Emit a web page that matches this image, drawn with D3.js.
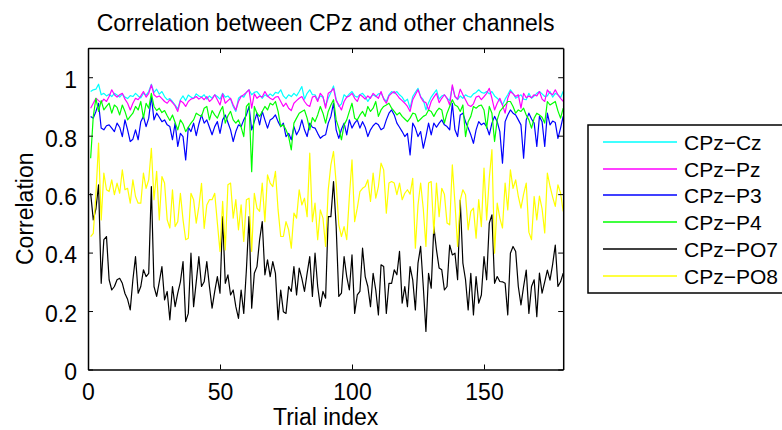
<!DOCTYPE html>
<html>
<head>
<meta charset="utf-8">
<script src="https://cdn.jsdelivr.net/npm/d3@7"></script>
<style>
  html, body { margin: 0; padding: 0; background: #fff; }
  svg { display: block; font-family: "Liberation Sans", Arial, sans-serif; }
</style>
</head>
<body>
<svg id="chart" width="782" height="430"></svg>
<script>
// correlation of CPz with each channel, one value per trial (1..180)
const cz = [
  0.951, 0.957, 0.959, 0.976, 0.940, 0.945, 0.936, 0.942, 0.934, 0.945,
  0.939, 0.932, 0.942, 0.932, 0.927, 0.937, 0.934, 0.945, 0.936, 0.929,
  0.945, 0.939, 0.951, 0.976, 0.948, 0.959, 0.942, 0.951, 0.934, 0.923,
  0.927, 0.917, 0.905, 0.891, 0.923, 0.936, 0.920, 0.939, 0.932, 0.927,
  0.943, 0.936, 0.932, 0.940, 0.925, 0.936, 0.928, 0.940, 0.934, 0.925,
  0.945, 0.932, 0.936, 0.925, 0.900, 0.883, 0.928, 0.936, 0.932, 0.948,
  0.957, 0.940, 0.948, 0.951, 0.940, 0.928, 0.940, 0.934, 0.943, 0.936,
  0.948, 0.945, 0.957, 0.936, 0.927, 0.940, 0.934, 0.945, 0.936, 0.951,
  0.968, 0.925, 0.945, 0.957, 0.940, 0.940, 0.923, 0.936, 0.932, 0.902,
  0.928, 0.948, 0.970, 0.925, 0.900, 0.909, 0.940, 0.932, 0.943, 0.951,
  0.936, 0.932, 0.940, 0.945, 0.934, 0.917, 0.932, 0.940, 0.934, 0.943,
  0.945, 0.928, 0.917, 0.940, 0.951, 0.945, 0.951, 0.940, 0.932, 0.917,
  0.925, 0.894, 0.934, 0.948, 0.962, 0.934, 0.923, 0.888, 0.913, 0.932,
  0.945, 0.957, 0.925, 0.936, 0.940, 0.928, 0.920, 0.968, 0.934, 0.923,
  0.936, 0.928, 0.940, 0.934, 0.932, 0.943, 0.948, 0.957, 0.948, 0.945,
  0.951, 0.943, 0.951, 0.936, 0.928, 0.920, 0.905, 0.925, 0.940, 0.957,
  0.945, 0.928, 0.934, 0.940, 0.925, 0.923, 0.945, 0.928, 0.936, 0.945,
  0.951, 0.943, 0.934, 0.936, 0.951, 0.932, 0.945, 0.940, 0.930, 0.952
];
const pz = [
  0.894, 0.911, 0.928, 0.920, 0.913, 0.925, 0.917, 0.934, 0.957, 0.940,
  0.932, 0.940, 0.945, 0.925, 0.911, 0.888, 0.911, 0.928, 0.923, 0.936,
  0.951, 0.932, 0.945, 0.974, 0.940, 0.932, 0.936, 0.927, 0.917, 0.911,
  0.923, 0.913, 0.902, 0.883, 0.920, 0.913, 0.900, 0.917, 0.925, 0.928,
  0.934, 0.925, 0.932, 0.923, 0.934, 0.917, 0.925, 0.940, 0.923, 0.905,
  0.943, 0.911, 0.920, 0.928, 0.905, 0.888, 0.917, 0.934, 0.940, 0.948,
  0.957, 0.894, 0.943, 0.928, 0.936, 0.932, 0.951, 0.936, 0.928, 0.923,
  0.932, 0.934, 0.917, 0.900, 0.911, 0.894, 0.886, 0.911, 0.920, 0.928,
  0.934, 0.917, 0.905, 0.900, 0.932, 0.936, 0.917, 0.945, 0.934, 0.894,
  0.945, 0.951, 0.962, 0.920, 0.905, 0.888, 0.917, 0.932, 0.936, 0.945,
  0.928, 0.917, 0.940, 0.934, 0.925, 0.936, 0.928, 0.945, 0.936, 0.928,
  0.951, 0.925, 0.911, 0.936, 0.945, 0.951, 0.940, 0.928, 0.920, 0.911,
  0.900, 0.883, 0.923, 0.940, 0.957, 0.932, 0.917, 0.913, 0.888, 0.917,
  0.932, 0.945, 0.913, 0.928, 0.940, 0.928, 0.905, 0.974, 0.934, 0.925,
  0.959, 0.940, 0.923, 0.905, 0.900, 0.909, 0.932, 0.936, 0.923, 0.934,
  0.945, 0.962, 0.928, 0.888, 0.911, 0.928, 0.905, 0.877, 0.928, 0.951,
  0.943, 0.934, 0.940, 0.894, 0.945, 0.930, 0.936, 0.930, 0.940, 0.936,
  0.951, 0.925, 0.917, 0.957, 0.945, 0.940, 0.957, 0.940, 0.928, 0.917
];
const p3 = [
  0.866, 0.860, 0.883, 0.911, 0.826, 0.820, 0.834, 0.837, 0.826, 0.814,
  0.843, 0.829, 0.797, 0.854, 0.820, 0.780, 0.788, 0.820, 0.786, 0.848,
  0.866, 0.831, 0.860, 0.934, 0.854, 0.877, 0.863, 0.848, 0.854, 0.837,
  0.831, 0.786, 0.843, 0.763, 0.808, 0.797, 0.717, 0.829, 0.814, 0.843,
  0.800, 0.840, 0.871, 0.843, 0.854, 0.829, 0.803, 0.831, 0.848, 0.808,
  0.854, 0.871, 0.845, 0.820, 0.780, 0.814, 0.837, 0.831, 0.854, 0.871,
  0.900, 0.820, 0.848, 0.877, 0.837, 0.883, 0.854, 0.826, 0.854, 0.860,
  0.871, 0.848, 0.831, 0.843, 0.797, 0.808, 0.786, 0.831, 0.803, 0.820,
  0.854, 0.820, 0.797, 0.843, 0.829, 0.826, 0.808, 0.791, 0.799, 0.803,
  0.843, 0.866, 0.911, 0.820, 0.791, 0.822, 0.843, 0.803, 0.854, 0.826,
  0.843, 0.854, 0.826, 0.848, 0.829, 0.797, 0.820, 0.834, 0.843, 0.837,
  0.820, 0.826, 0.854, 0.877, 0.888, 0.871, 0.843, 0.829, 0.814, 0.797,
  0.808, 0.734, 0.843, 0.826, 0.797, 0.814, 0.757, 0.797, 0.843, 0.803,
  0.843, 0.829, 0.843, 0.854, 0.837, 0.831, 0.820, 0.911, 0.820, 0.797,
  0.871, 0.877, 0.848, 0.826, 0.803, 0.774, 0.820, 0.848, 0.837, 0.843,
  0.831, 0.803, 0.843, 0.866, 0.848, 0.814, 0.706, 0.848, 0.871, 0.888,
  0.877, 0.871, 0.854, 0.837, 0.723, 0.854, 0.877, 0.857, 0.843, 0.763,
  0.866, 0.848, 0.763, 0.877, 0.837, 0.850, 0.845, 0.791, 0.826, 0.866
];
const p4 = [
  0.723, 0.866, 0.928, 0.883, 0.920, 0.888, 0.900, 0.911, 0.877, 0.905,
  0.897, 0.871, 0.905, 0.883, 0.854, 0.866, 0.877, 0.900, 0.888, 0.917,
  0.860, 0.911, 0.894, 0.945, 0.900, 0.886, 0.894, 0.879, 0.886, 0.868,
  0.852, 0.871, 0.845, 0.820, 0.854, 0.840, 0.814, 0.829, 0.843, 0.854,
  0.877, 0.871, 0.866, 0.894, 0.900, 0.854, 0.886, 0.871, 0.860, 0.883,
  0.900, 0.843, 0.868, 0.883, 0.854, 0.843, 0.854, 0.829, 0.797, 0.900,
  0.911, 0.677, 0.900, 0.877, 0.866, 0.883, 0.900, 0.888, 0.911, 0.905,
  0.917, 0.883, 0.831, 0.837, 0.820, 0.797, 0.751, 0.843, 0.860, 0.877,
  0.883, 0.888, 0.860, 0.820, 0.862, 0.848, 0.871, 0.900, 0.877, 0.843,
  0.883, 0.905, 0.923, 0.854, 0.826, 0.786, 0.837, 0.854, 0.883, 0.911,
  0.860, 0.854, 0.871, 0.883, 0.866, 0.900, 0.883, 0.894, 0.917, 0.866,
  0.888, 0.900, 0.905, 0.911, 0.894, 0.883, 0.871, 0.879, 0.866, 0.857,
  0.848, 0.860, 0.877, 0.874, 0.848, 0.857, 0.866, 0.871, 0.888, 0.883,
  0.866, 0.883, 0.894, 0.888, 0.843, 0.877, 0.900, 0.923, 0.905, 0.900,
  0.883, 0.905, 0.797, 0.848, 0.866, 0.900, 0.894, 0.902, 0.905, 0.888,
  0.826, 0.900, 0.877, 0.780, 0.854, 0.883, 0.894, 0.905, 0.917, 0.917,
  0.900, 0.877, 0.888, 0.883, 0.894, 0.871, 0.854, 0.826, 0.860, 0.877,
  0.871, 0.863, 0.843, 0.917, 0.905, 0.911, 0.917, 0.885, 0.860, 0.894
];
const po7 = [
  0.603, 0.512, 0.550, 0.632, 0.295, 0.444, 0.455, 0.307, 0.272, 0.284,
  0.307, 0.312, 0.295, 0.260, 0.240, 0.204, 0.307, 0.386, 0.261, 0.284,
  0.341, 0.318, 0.329, 0.626, 0.284, 0.250, 0.300, 0.352, 0.238, 0.267,
  0.170, 0.284, 0.215, 0.261, 0.300, 0.369, 0.164, 0.192, 0.398, 0.215,
  0.300, 0.386, 0.284, 0.300, 0.369, 0.284, 0.210, 0.267, 0.318, 0.261,
  0.523, 0.295, 0.324, 0.255, 0.272, 0.215, 0.175, 0.272, 0.192, 0.341,
  0.523, 0.210, 0.329, 0.352, 0.444, 0.506, 0.324, 0.375, 0.318, 0.369,
  0.329, 0.170, 0.272, 0.198, 0.192, 0.284, 0.267, 0.352, 0.255, 0.347,
  0.312, 0.267, 0.329, 0.386, 0.250, 0.398, 0.284, 0.215, 0.267, 0.244,
  0.523, 0.523, 0.643, 0.489, 0.250, 0.261, 0.386, 0.318, 0.272, 0.392,
  0.192, 0.255, 0.267, 0.415, 0.318, 0.284, 0.215, 0.329, 0.272, 0.187,
  0.358, 0.352, 0.192, 0.295, 0.295, 0.341, 0.324, 0.404, 0.227, 0.284,
  0.215, 0.352, 0.307, 0.204, 0.364, 0.421, 0.284, 0.130, 0.329, 0.278,
  0.489, 0.409, 0.347, 0.341, 0.272, 0.284, 0.426, 0.392, 0.398, 0.307,
  0.580, 0.364, 0.307, 0.204, 0.329, 0.187, 0.318, 0.227, 0.255, 0.386,
  0.307, 0.501, 0.529, 0.295, 0.318, 0.301, 0.300, 0.295, 0.187, 0.398,
  0.421, 0.404, 0.284, 0.221, 0.284, 0.340, 0.192, 0.284, 0.307, 0.181,
  0.330, 0.261, 0.300, 0.340, 0.306, 0.360, 0.426, 0.284, 0.300, 0.330
];
const po8 = [
  0.455, 0.466, 0.600, 0.775, 0.512, 0.672, 0.615, 0.609, 0.649, 0.598,
  0.638, 0.603, 0.683, 0.615, 0.620, 0.569, 0.649, 0.592, 0.569, 0.569,
  0.672, 0.620, 0.649, 0.757, 0.581, 0.678, 0.512, 0.660, 0.638, 0.512,
  0.484, 0.615, 0.489, 0.506, 0.603, 0.512, 0.444, 0.449, 0.603, 0.581,
  0.501, 0.558, 0.637, 0.483, 0.563, 0.581, 0.581, 0.603, 0.501, 0.404,
  0.575, 0.409, 0.632, 0.638, 0.518, 0.581, 0.478, 0.563, 0.438, 0.581,
  0.586, 0.404, 0.603, 0.552, 0.541, 0.638, 0.506, 0.666, 0.638, 0.626,
  0.678, 0.546, 0.455, 0.455, 0.506, 0.478, 0.415, 0.535, 0.518, 0.615,
  0.563, 0.586, 0.523, 0.740, 0.506, 0.569, 0.444, 0.546, 0.518, 0.421,
  0.615, 0.700, 0.746, 0.638, 0.495, 0.455, 0.489, 0.444, 0.592, 0.717,
  0.506, 0.552, 0.609, 0.620, 0.626, 0.649, 0.575, 0.672, 0.586, 0.626,
  0.706, 0.683, 0.535, 0.638, 0.643, 0.638, 0.598, 0.638, 0.581, 0.603,
  0.615, 0.600, 0.654, 0.415, 0.563, 0.638, 0.550, 0.421, 0.638, 0.643,
  0.466, 0.638, 0.523, 0.620, 0.600, 0.501, 0.495, 0.700, 0.569, 0.421,
  0.580, 0.615, 0.598, 0.478, 0.541, 0.552, 0.449, 0.581, 0.489, 0.689,
  0.512, 0.655, 0.752, 0.398, 0.569, 0.518, 0.484, 0.638, 0.546, 0.683,
  0.620, 0.649, 0.592, 0.552, 0.600, 0.638, 0.470, 0.444, 0.592, 0.512,
  0.593, 0.550, 0.467, 0.672, 0.627, 0.590, 0.558, 0.632, 0.604, 0.541
];

const seriesNames = ["CPz\u2212Cz", "CPz\u2212Pz", "CPz\u2212P3", "CPz\u2212P4", "CPz\u2212PO7", "CPz\u2212PO8"];
const seriesColors = ["#00ffff", "#ff00ff", "#0000ff", "#00ff00", "#000000", "#ffff00"];
const seriesValues = [cz, pz, p3, p4, po7, po8];

const xTicks = [0, 50, 100, 150];
const yTicks = [0, 0.2, 0.4, 0.6, 0.8, 1];
const yTickLabels = ["0", "0.2", "0.4", "0.6", "0.8", "1"];

const svg = d3.select("#chart");
const margin = { top: 48, left: 88 };
const plotW = 475.2;
const plotH = 321.5;
const fontSize = 23;

const g = svg.append("g").attr("transform", `translate(${margin.left}, ${margin.top})`);

const x = d3.scaleLinear().domain([0, 180]).range([0, plotW]);
const y = d3.scaleLinear().domain([0, 1.1]).range([plotH, 0]);

// data lines
const line = d3.line()
  .x((d, i) => x(i + 1))
  .y(d => y(d));

seriesValues.forEach((vals, k) => {
  g.append("path")
    .datum(vals)
    .attr("fill", "none")
    .attr("stroke", seriesColors[k])
    .attr("stroke-width", 1.2)
    .attr("stroke-linejoin", "round")
    .attr("d", line);
});

// axes, matlab style: ticks inside, mirrored on top/right
const tickLen = 5;
const axisBottom = g.append("g")
  .attr("transform", `translate(0, ${plotH})`)
  .call(d3.axisBottom(x).tickValues(xTicks).tickSizeInner(-tickLen).tickSizeOuter(0).tickPadding(14));
const axisTop = g.append("g")
  .call(d3.axisTop(x).tickValues(xTicks).tickSizeInner(-tickLen).tickSizeOuter(0).tickFormat(""));
const axisLeft = g.append("g")
  .call(d3.axisLeft(y).tickValues(yTicks).tickSizeInner(-tickLen).tickSizeOuter(0)
    .tickFormat((d, i) => yTickLabels[i]).tickPadding(11));
const axisRight = g.append("g")
  .attr("transform", `translate(${plotW}, 0)`)
  .call(d3.axisRight(y).tickValues(yTicks).tickSizeInner(-tickLen).tickSizeOuter(0).tickFormat(""));

[axisBottom, axisTop, axisLeft, axisRight].forEach(a => {
  a.select(".domain").attr("stroke", "#000").attr("stroke-width", 1.5);
  a.selectAll(".tick line").attr("stroke", "#000").attr("stroke-width", 1);
  a.selectAll("text")
    .attr("fill", "#000")
    .style("font-family", "'Liberation Sans', Arial, sans-serif")
    .style("font-size", fontSize + "px");
});
axisLeft.selectAll("text").attr("dy", "0.45em");

// title and labels
svg.append("text")
  .attr("x", margin.left + plotW / 2)
  .attr("y", 31)
  .attr("text-anchor", "middle")
  .style("font-size", fontSize + "px")
  .text("Correlation between CPz and other channels");

svg.append("text")
  .attr("x", margin.left + plotW / 2)
  .attr("y", 425)
  .attr("text-anchor", "middle")
  .style("font-size", fontSize + "px")
  .text("Trial index");

svg.append("text")
  .attr("transform", `translate(33, ${margin.top + plotH / 2}) rotate(-90)`)
  .attr("text-anchor", "middle")
  .style("font-size", fontSize + "px")
  .text("Correlation");

// legend
const legend = svg.append("g").attr("transform", "translate(588, 125)");
legend.append("rect")
  .attr("width", 230)
  .attr("height", 168)
  .attr("fill", "#fff")
  .attr("stroke", "#000")
  .attr("stroke-width", 1.5);

seriesNames.forEach((name, k) => {
  const rowY = Math.round(17 + k * 26.7);
  legend.append("line")
    .attr("x1", 15).attr("x2", 89)
    .attr("y1", rowY).attr("y2", rowY)
    .attr("stroke", seriesColors[k])
    .attr("stroke-width", 1.5);
  legend.append("text")
    .attr("x", 96)
    .attr("y", rowY)
    .attr("dy", "0.36em")
    .style("font-size", "21px")
    .text(name);
});
</script>
</body>
</html>
